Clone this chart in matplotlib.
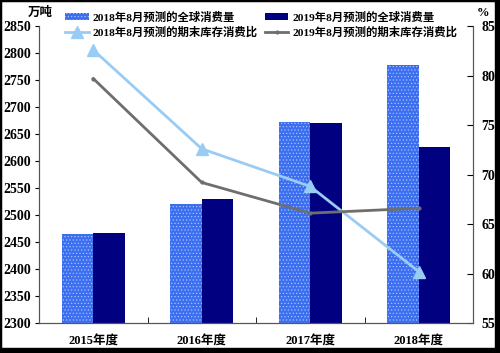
import numpy as np
import matplotlib.pyplot as plt
from matplotlib.patches import Rectangle

plt.rcParams['font.family'] = ['Liberation Serif', 'Noto Sans CJK SC']
plt.rcParams['hatch.linewidth'] = 0.5

# data
years = ['2015年度', '2016年度', '2017年度', '2018年度']
cons_2018 = [2465, 2520, 2673, 2778]
cons_2019 = [2466, 2530, 2670, 2626]
ratio_2018 = [82.6, 72.6, 68.8, 60.2]
ratio_2019 = [79.7, 69.2, 66.1, 66.6]

fig = plt.figure(figsize=(5, 3.53), dpi=100)
ax = fig.add_axes([0.078, 0.085, 0.868, 0.841])
ax2 = ax.twinx()

x = np.arange(len(years))
w = 0.29
ax.bar(x - w / 2, cons_2018, w, color='#3b6ff0', hatch='.....', edgecolor='#a8c0ff',
       linewidth=0, label='2018年8月预测的全球消费量')
ax.bar(x + w / 2, cons_2019, w, color='#000080', linewidth=0,
       label='2019年8月预测的全球消费量')
ax2.plot(x, ratio_2018, color='#99ccf5', lw=2, marker='^', ms=8,
         label='2018年8月预测的期末库存消费比')
ax2.plot(x, ratio_2019, color='#6e6e6e', lw=2, marker='.', ms=4,
         label='2019年8月预测的期末库存消费比')

ax.set_xlim(-0.5, 3.5)
ax.set_ylim(2300, 2850)
ax.set_yticks(range(2300, 2851, 50))
ax2.set_ylim(55, 85)
ax2.set_yticks(range(55, 86, 5))

ax.set_xticks(x)
ax.set_xticklabels(years, fontsize=9, fontweight='bold',
                   family=['Liberation Serif', 'Noto Sans CJK SC'])
ax.set_xticks(np.arange(-0.5, 4, 1), minor=True)
ax.tick_params(axis='x', which='major', length=0, pad=9)
ax.tick_params(axis='x', which='minor', length=4, direction='in')
ax.tick_params(axis='y', length=3, direction='out', labelsize=10, pad=3)
ax2.tick_params(axis='y', length=4, direction='in', labelsize=10, pad=6)
for lab in ax.get_yticklabels() + ax2.get_yticklabels():
    lab.set_fontweight('bold')

for a in (ax, ax2):
    a.spines['top'].set_visible(False)
    for s in ('left', 'right', 'bottom'):
        a.spines[s].set_color('#555555')
        a.spines[s].set_linewidth(0.8)

fig.text(0.08, 0.955, '万吨', fontsize=9, fontweight='bold', ha='center',
         family=['Noto Sans CJK SC'])
fig.text(0.966, 0.955, '%', fontsize=9, fontweight='bold', ha='center')

h1, l1 = ax.get_legend_handles_labels()
h2, l2 = ax2.get_legend_handles_labels()
handles = [h1[0], h2[0], h1[1], h2[1]]
labels = [l1[0], l2[0], l1[1], l2[1]]
fig.legend(handles, labels, loc='upper left', bbox_to_anchor=(0.118, 0.983), ncol=2,
           frameon=False, handlelength=2.1, handleheight=0.6, handletextpad=0.35,
           columnspacing=0.6, labelspacing=0.3, borderaxespad=0.3, borderpad=0.2,
           prop={'family': ['Liberation Serif', 'Noto Sans CJK SC'], 'weight': 'bold', 'size': 8.2})

# black frame around the picture
fig.patches.append(Rectangle((0, 0), 1, 1, transform=fig.transFigure, fill=False,
                             edgecolor='black', lw=2.5))
fig.patches.append(Rectangle((0.99, 0), 0.01, 1, transform=fig.transFigure,
                             color='black'))
fig.patches.append(Rectangle((0, 0), 1, 0.014, transform=fig.transFigure,
                             color='black'))

fig.savefig('out.png', dpi=100)
